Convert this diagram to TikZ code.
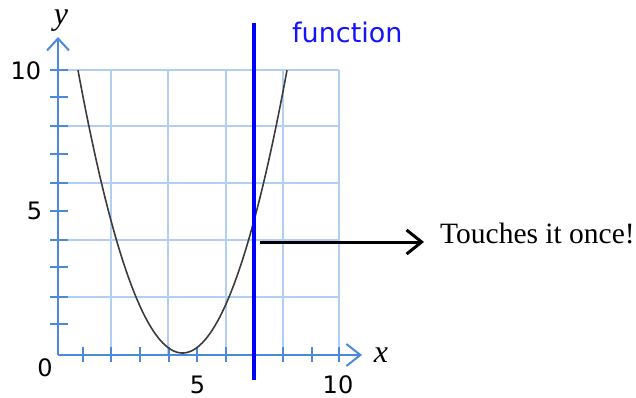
\documentclass[tikz,border=0pt]{standalone}
\usepackage{fontspec}
\setmainfont{Liberation Serif}
\newfontfamily\vsans{DejaVu Sans}
\usetikzlibrary{arrows.meta}
\definecolor{gridblue}{RGB}{178,206,242}
\definecolor{axisblue}{RGB}{74,137,220}
\definecolor{fnblue}{RGB}{20,20,255}
\definecolor{curvegray}{RGB}{60,60,60}
\tikzset{
  gridline/.style={gridblue, line width=2pt},
  axisline/.style={axisblue, line width=2pt},
  tickmark/.style={axisblue, line width=2pt},
  ticklabel/.style={font=\vsans\fontsize{24}{24}\selectfont, inner sep=0pt},
  axislabel/.style={font=\fontsize{32}{32}\selectfont\itshape, inner sep=0pt, anchor=base},
  vline/.style={blue, line width=3.5pt},
  pointer/.style={black, line width=3pt, -{Straight Barb[length=15pt,width=24pt,line width=3pt]}},
}
\begin{document}
\begin{tikzpicture}[x=1pt,y=-1pt]
\useasboundingbox (0,0) rectangle (636,398);
% grid
\foreach \gx in {111,168,226,283,339} \draw[gridline] (\gx,70) -- (\gx,355);
\foreach \gy in {70,126,183,240,297} \draw[gridline] (58,\gy) -- (339,\gy);
% axes
\coordinate (O) at (58,355);
\coordinate (ytop) at (58,37);
\coordinate (xend) at (362,355);
\draw[axisline, -{Straight Barb[length=12pt,width=22pt,line width=2pt]}] (O) -- (ytop);
\draw[axisline, -{Straight Barb[length=14pt,width=22pt,line width=2pt]}] (O) -- (xend);
% ticks
\foreach \ty in {70,97,126,154,183,211,240,267,297,324} \draw[tickmark] (50,\ty) -- (68,\ty);
\foreach \tx in {83,111,140,169,197,226,254,283,312,339} \draw[tickmark] (\tx,347) -- (\tx,362);
% tick labels
\node[ticklabel] (y10) at (26,71) {10};
\node[ticklabel] (y5) at (34.5,211) {5};
\node[ticklabel] (o0) at (45,368) {0};
\node[ticklabel] (x5) at (197.5,385) {5};
\node[ticklabel] (x10) at (338,385) {10};
% axis labels
\node[axislabel] (ylab) at (61,25) {y};
\node[axislabel] (xlab) at (381,362) {x};
% curve
\draw[curvegray, line width=1.6pt] plot[domain=78:287, samples=80, smooth] (\x, {353 - 0.0259*(\x-182.5)*(\x-182.5)});
% vertical line
\coordinate (vtop) at (254,23);
\coordinate (vbot) at (254,380);
\draw[vline] (vtop) -- (vbot);
\node[font=\vsans\fontsize{27}{27}\selectfont, text=fnblue, anchor=base west, inner sep=0pt] (fn) at (292,43) {function};
% pointer
\coordinate (touch) at (260,242);
\coordinate (tip) at (424,242);
\draw[pointer] (touch) -- (tip);
\node[font=\fontsize{29.5}{30}\selectfont, anchor=base west, inner sep=0pt] (txt) at (440,243) {Touches it once!};
\end{tikzpicture}
\end{document}
